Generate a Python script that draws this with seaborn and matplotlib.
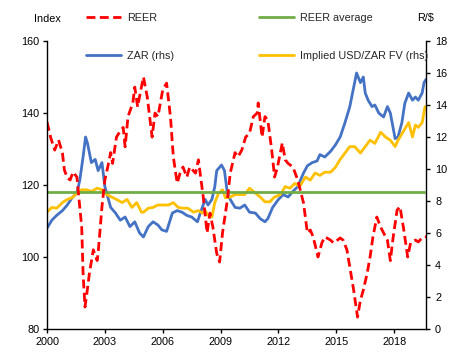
import matplotlib
matplotlib.use("Agg")
import matplotlib.pyplot as plt
import seaborn as sns
import pandas as pd

# ---------------- data ----------------
reer_dates = [2000.0, 2000.2, 2000.4, 2000.6, 2000.8, 2000.9, 2001.05, 2001.2, 2001.35, 2001.55,
              2001.6, 2001.8, 2001.87, 2001.97, 2002.07, 2002.2, 2002.4, 2002.6, 2002.65, 2002.85,
              2003.0, 2003.15, 2003.3, 2003.4, 2003.6, 2003.8, 2003.95, 2004.05, 2004.2, 2004.45,
              2004.55, 2004.7, 2004.85, 2005.0, 2005.2, 2005.45, 2005.6, 2005.75, 2006.0, 2006.2,
              2006.4, 2006.55, 2006.75, 2006.9, 2007.05, 2007.25, 2007.4, 2007.7, 2007.85, 2008.1,
              2008.3, 2008.45, 2008.6, 2008.8, 2008.95, 2009.1, 2009.35, 2009.5, 2009.75, 2009.9,
              2010.1, 2010.3, 2010.5, 2010.7, 2010.9, 2010.95, 2011.15, 2011.3, 2011.45, 2011.65,
              2011.8, 2011.95, 2012.2, 2012.35, 2012.5, 2012.75, 2013.0, 2013.3, 2013.5, 2013.65,
              2013.8, 2014.05, 2014.25, 2014.4, 2014.7, 2014.85, 2014.95, 2015.2, 2015.35, 2015.55,
              2015.7, 2015.9, 2016.1, 2016.25, 2016.4, 2016.6, 2016.75, 2016.9, 2017.1, 2017.3,
              2017.45, 2017.65, 2017.8, 2017.95, 2018.15, 2018.3, 2018.5, 2018.7, 2018.85, 2019.1,
              2019.25, 2019.5, 2019.65]
reer_values = [137.5, 133.0, 129.7, 132.5, 128.9, 124.2, 122.0, 121.4, 123.6, 122.2,
               119.4, 108.3, 95.5, 86.1, 90.0, 95.5, 102.0, 99.0, 101.0, 114.0,
               121.4, 125.0, 129.0, 126.0, 133.3, 135.0, 136.0, 130.6, 139.0, 142.8,
               147.2, 141.7, 146.0, 150.0, 144.4, 133.3, 140.0, 139.0, 146.4, 148.3,
               139.0, 127.8, 120.5, 123.3, 125.0, 122.2, 125.0, 123.3, 127.0, 116.7,
               106.7, 112.2, 108.3, 101.0, 98.6, 106.7, 115.8, 123.3, 129.0, 127.8,
               129.7, 133.3, 134.4, 139.0, 140.0, 142.8, 133.3, 139.0, 138.0, 129.7,
               122.2, 125.0, 131.7, 127.0, 126.0, 125.0, 121.4, 115.0, 106.7, 107.5,
               105.6, 100.0, 103.9, 105.6, 104.7, 103.9, 104.2, 105.3, 104.7, 102.0,
               97.2, 90.8, 83.3, 88.0, 90.8, 95.5, 100.0, 105.6, 111.1, 108.3,
               106.7, 104.7, 99.0, 105.6, 113.0, 114.0, 107.5, 100.0, 103.9, 104.7,
               104.2, 105.6, 105.6]

reer_average = 118.0
avg_dates = [2000.0, 2019.65]

zar_dates = [2000.0, 2000.25, 2000.5, 2000.8, 2001.05, 2001.3, 2001.55, 2001.7, 2001.87, 2002.0,
             2002.1, 2002.3, 2002.5, 2002.65, 2002.85, 2003.0, 2003.3, 2003.55, 2003.8, 2004.05,
             2004.3, 2004.55, 2004.8, 2005.0, 2005.25, 2005.5, 2005.75, 2005.95, 2006.2, 2006.5,
             2006.75, 2007.0, 2007.25, 2007.5, 2007.8, 2007.95, 2008.2, 2008.35, 2008.55, 2008.7,
             2008.8, 2009.05, 2009.2, 2009.35, 2009.5, 2009.75, 2010.0, 2010.25, 2010.5, 2010.8,
             2011.05, 2011.3, 2011.45, 2011.7, 2012.0, 2012.25, 2012.5, 2012.75, 2013.0, 2013.3,
             2013.5, 2013.75, 2014.0, 2014.15, 2014.4, 2014.7, 2014.95, 2015.2, 2015.45, 2015.7,
             2015.9, 2016.05, 2016.25, 2016.4, 2016.5, 2016.65, 2016.85, 2017.0, 2017.2, 2017.45,
             2017.65, 2017.8, 2018.05, 2018.2, 2018.4, 2018.55, 2018.75, 2018.95, 2019.1, 2019.25,
             2019.45, 2019.55, 2019.65]
zar_values = [6.3, 6.8, 7.1, 7.4, 7.75, 8.2, 8.5, 9.3, 10.75, 12.0,
              11.6, 10.4, 10.6, 9.9, 10.4, 8.9, 7.6, 7.25, 6.8, 7.0,
              6.4, 6.7, 6.0, 5.75, 6.4, 6.7, 6.5, 6.2, 6.1, 7.25,
              7.4, 7.3, 7.1, 7.0, 6.7, 7.25, 8.1, 7.75, 8.1, 8.9,
              9.9, 10.25, 9.9, 8.5, 8.1, 7.6, 7.55, 7.75, 7.3, 7.25,
              6.9, 6.7, 6.9, 7.6, 8.1, 8.4, 8.25, 8.6, 8.9, 9.75,
              10.2, 10.4, 10.5, 10.9, 10.75, 11.1, 11.5, 12.0, 12.9, 13.9,
              15.1, 16.0, 15.4, 15.75, 14.75, 14.3, 13.9, 14.0, 13.5, 13.25,
              13.9, 13.5, 11.9, 12.0, 12.9, 14.1, 14.75, 14.3, 14.5, 14.3,
              14.75, 15.4, 15.6]

fv_dates = [2000.0, 2000.25, 2000.5, 2000.8, 2001.05, 2001.3, 2001.55, 2001.8, 2002.05, 2002.3,
            2002.6, 2002.85, 2003.1, 2003.35, 2003.6, 2003.9, 2004.15, 2004.4, 2004.65, 2004.9,
            2005.0, 2005.25, 2005.5, 2005.75, 2006.0, 2006.3, 2006.55, 2006.8, 2007.05, 2007.3,
            2007.6, 2007.85, 2008.05, 2008.2, 2008.35, 2008.55, 2008.7, 2008.9, 2009.1, 2009.25,
            2009.5, 2009.75, 2010.0, 2010.25, 2010.5, 2010.8, 2011.05, 2011.3, 2011.55, 2011.8,
            2012.1, 2012.35, 2012.6, 2012.85, 2013.1, 2013.4, 2013.65, 2013.9, 2014.15, 2014.4,
            2014.7, 2014.95, 2015.2, 2015.45, 2015.7, 2015.95, 2016.25, 2016.5, 2016.75, 2017.0,
            2017.3, 2017.55, 2017.8, 2018.05, 2018.2, 2018.5, 2018.75, 2018.95, 2019.1, 2019.25,
            2019.45, 2019.6]
fv_values = [7.3, 7.6, 7.55, 7.9, 8.1, 8.2, 8.5, 8.7, 8.7, 8.6,
             8.8, 8.7, 8.4, 8.25, 8.1, 7.9, 8.1, 7.6, 7.9, 7.3,
             7.3, 7.55, 7.6, 7.75, 7.75, 7.75, 7.9, 7.6, 7.55, 7.55,
             7.3, 7.4, 7.25, 7.4, 7.1, 7.0, 7.9, 8.5, 8.7, 8.2,
             8.25, 8.4, 8.4, 8.4, 8.8, 8.5, 8.25, 7.95, 7.95, 8.25,
             8.4, 8.9, 8.8, 9.1, 8.9, 9.5, 9.3, 9.75, 9.6, 9.8,
             9.8, 10.1, 10.6, 11.0, 11.4, 11.4, 11.0, 11.4, 11.8, 11.6,
             12.3, 12.0, 11.8, 11.4, 11.8, 12.4, 12.9, 12.0, 12.75, 12.6,
             12.9, 13.9]

year_ticks = [2000, 2003, 2006, 2009, 2012, 2015, 2018]
left_ticks = [80, 100, 120, 140, 160]
right_ticks = [0, 2, 4, 6, 8, 10, 12, 14, 16, 18]

labels = ["REER", "ZAR (rhs)", "REER average", "Implied USD/ZAR FV (rhs)"]

# ---------------- styling ----------------
sns.set_style("white")
plt.rcParams['font.family'] = ['Liberation Sans', 'DejaVu Sans']

RED = "#FF0000"
BLUE = "#4472C4"
GREEN = "#70AD47"
GOLD = "#FFC000"
FS = 7.8

df_reer = pd.DataFrame({"date": reer_dates, "value": reer_values})
df_avg = pd.DataFrame({"date": avg_dates, "value": [reer_average] * len(avg_dates)})
df_zar = pd.DataFrame({"date": zar_dates, "value": zar_values})
df_fv = pd.DataFrame({"date": fv_dates, "value": fv_values})

fig = plt.figure(figsize=(4.66, 3.6), dpi=100)
ax = fig.add_axes([47 / 466, 1 - 329 / 360, (426 - 47) / 466, 288 / 360])
ax2 = ax.twinx()

sns.lineplot(data=df_zar, x="date", y="value", ax=ax2, color=BLUE, linewidth=2.0,
             legend=False, sort=False)
l_zar = ax2.lines[-1]
sns.lineplot(data=df_fv, x="date", y="value", ax=ax2, color=GOLD, linewidth=2.0,
             legend=False, sort=False)
l_fv = ax2.lines[-1]

sns.lineplot(data=df_avg, x="date", y="value", ax=ax, color=GREEN, linewidth=2.0,
             legend=False, sort=False)
l_avg = ax.lines[-1]
sns.lineplot(data=df_reer, x="date", y="value", ax=ax, color=RED, linewidth=2.0,
             legend=False, sort=False)
l_reer = ax.lines[-1]
l_reer.set_dashes((3.2, 1.6))

ax.set_zorder(ax2.get_zorder() + 1)
ax.patch.set_visible(False)

ax.set_xlim(2000, 2019.65)
ax.set_ylim(80, 160)
ax2.set_ylim(0, 18)
ax.set_xticks(year_ticks)
ax.set_xticklabels([str(y) for y in year_ticks])
ax.set_yticks(left_ticks)
ax2.set_yticks(right_ticks)
ax.set_xlabel("")
ax.set_ylabel("")
ax2.set_ylabel("")
ax.grid(False)
ax2.grid(False)

for a in (ax, ax2):
    a.spines["top"].set_visible(False)
    for s in ("left", "right", "bottom"):
        a.spines[s].set_color("black")
        a.spines[s].set_linewidth(1.0)
ax.spines["right"].set_visible(False)
ax2.spines["left"].set_visible(False)
ax2.spines["bottom"].set_visible(False)

ax.tick_params(axis="x", direction="out", length=3, width=1, pad=3, labelsize=FS,
               colors="black", bottom=True)
ax.tick_params(axis="y", direction="out", length=3, width=1, pad=2.5, labelsize=FS,
               colors="black", left=True)
ax2.tick_params(axis="y", direction="out", length=3, width=1, pad=3.5, labelsize=FS,
                colors="black", right=True)

ax.text(0.0, 1.075, "Index", transform=ax.transAxes, ha="center", va="center",
        fontsize=FS, color="black")
ax2.text(1.0, 1.08, "R/$", transform=ax.transAxes, ha="center", va="center",
         fontsize=FS, color="black")

leg_kw = dict(frameon=False, fontsize=FS, handlelength=3.2, handletextpad=0.55,
              labelspacing=2.55, borderpad=0, borderaxespad=0, loc="upper left")
leg1 = fig.legend([l_reer, l_zar], labels[:2], bbox_to_anchor=(86 / 466, 1 - 13 / 360), **leg_kw)
leg2 = fig.legend([l_avg, l_fv], labels[2:], bbox_to_anchor=(259 / 466, 1 - 13 / 360), **leg_kw)

fig.savefig("out.png", dpi=100)
